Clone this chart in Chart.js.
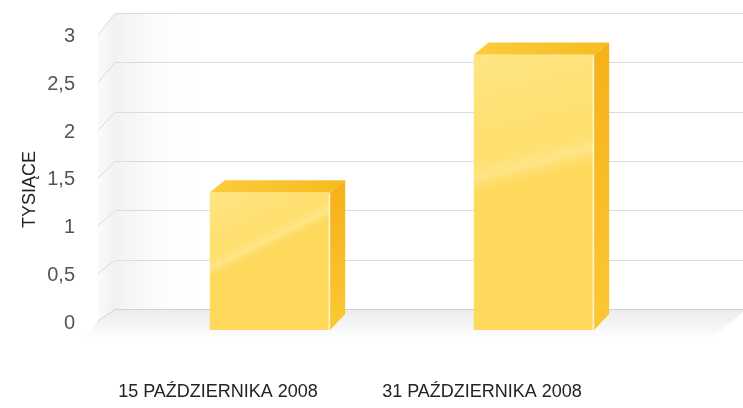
<!DOCTYPE html>
<html>
<head>
<meta charset="utf-8">
<script src="https://cdn.jsdelivr.net/npm/chart.js@4"></script>
<style>
  body { margin: 0; background: #fff; }
  #wrap { width: 743px; height: 408px; }
</style>
</head>
<body>
<div id="wrap"><canvas id="barChart"></canvas></div>
<script>
const categories = ['15 PAŹDZIERNIKA 2008', '31 PAŹDZIERNIKA 2008'];
const values = [1.35, 2.7];
const tickValues = [0, 0.5, 1, 1.5, 2, 2.5, 3];

// fake 3D: depth offset of the bar boxes
const depthX = 15;
const depthY = -12;

const box3d = {
    id: 'box3d',
    beforeDatasetsDraw(chart) {
        const ctx = chart.ctx;
        const area = chart.chartArea;
        const yw = chart.scales.yw;
        const yl = chart.scales.yl;
        const frontX = area.left - 40;
        const backX = area.left - 23;
        const rightX = chart.width;

        const f0 = yl.getPixelForValue(0) - 2, f3 = yl.getPixelForValue(3) - 2;
        const b0 = yw.getPixelForValue(0), b3 = yw.getPixelForValue(3);

        ctx.save();
        // side wall
        let g = ctx.createLinearGradient(frontX, 0, backX, 0);
        g.addColorStop(0, '#fbfbfb');
        g.addColorStop(1, '#f1f1f1');
        ctx.fillStyle = g;
        ctx.beginPath();
        ctx.moveTo(frontX, f3); ctx.lineTo(backX, b3); ctx.lineTo(backX, b0); ctx.lineTo(frontX, f0);
        ctx.closePath(); ctx.fill();

        // back wall shade
        g = ctx.createLinearGradient(backX, 0, backX + 80, 0);
        g.addColorStop(0, 'rgba(241,241,241,1)');
        g.addColorStop(1, 'rgba(255,255,255,0)');
        ctx.fillStyle = g;
        ctx.fillRect(backX, b3, 80, b0 - b3);

        // floor
        g = ctx.createLinearGradient(0, b0, 0, b0 + 36);
        g.addColorStop(0, '#ececec');
        g.addColorStop(0.5, '#f6f6f6');
        g.addColorStop(1, 'rgba(255,255,255,0)');
        ctx.fillStyle = g;
        ctx.beginPath();
        ctx.moveTo(backX, b0); ctx.lineTo(rightX, b0); ctx.lineTo(rightX, b0 + 3);
        ctx.lineTo(rightX - 40, b0 + 36); ctx.lineTo(frontX - 20, b0 + 36); ctx.lineTo(frontX, f0);
        ctx.closePath(); ctx.fill();

        // grid lines
        ctx.lineWidth = 1;
        tickValues.forEach(v => {
            const yf = yl.getPixelForValue(v) - 2;
            const yb = Math.round(yw.getPixelForValue(v)) + 0.5;
            ctx.strokeStyle = v === 0 ? '#d2d2d2' : '#dcdcdc';
            ctx.beginPath();
            ctx.moveTo(frontX, yf);
            ctx.lineTo(backX, yb);
            ctx.lineTo(rightX, yb);
            ctx.stroke();
        });
        ctx.restore();
    },
    afterDatasetsDraw(chart) {
        const ctx = chart.ctx;
        const meta = chart.getDatasetMeta(0);
        ctx.save();
        meta.data.forEach(bar => {
            const w = bar.width;
            const L = bar.x - w / 2, R = bar.x + w / 2;
            const top = bar.y, base = bar.base;
            const h = base - top;

            // gloss on the front face
            let g = ctx.createLinearGradient(L, top, L + w * 0.5, top + Math.min(h, 260) * 0.9);
            g.addColorStop(0, 'rgba(255,240,170,0.5)');
            g.addColorStop(0.42, 'rgba(255,236,150,0.3)');
            g.addColorStop(0.5, 'rgba(255,244,190,0.45)');
            g.addColorStop(0.58, 'rgba(255,215,90,0)');
            g.addColorStop(1, 'rgba(255,215,90,0)');
            ctx.fillStyle = g;
            ctx.fillRect(L, top, w, h);
            ctx.strokeStyle = 'rgba(255,246,205,0.9)';
            ctx.lineWidth = 1.5;
            ctx.beginPath();
            ctx.moveTo(R - 1, top + 2); ctx.lineTo(R - 1, base);
            ctx.stroke();

            // top face
            g = ctx.createLinearGradient(L, top, R + depthX, top + depthY);
            g.addColorStop(0, '#fbcc3c');
            g.addColorStop(1, '#f7bb20');
            ctx.fillStyle = g;
            ctx.beginPath();
            ctx.moveTo(L, top); ctx.lineTo(L + depthX, top + depthY);
            ctx.lineTo(R + depthX, top + depthY); ctx.lineTo(R, top);
            ctx.closePath(); ctx.fill();

            // side face
            g = ctx.createLinearGradient(0, top, 0, base);
            g.addColorStop(0, '#f6b21a');
            g.addColorStop(0.5, '#f9bd28');
            g.addColorStop(1, '#fcc836');
            ctx.fillStyle = g;
            ctx.beginPath();
            ctx.moveTo(R, top); ctx.lineTo(R + depthX, top + depthY);
            ctx.lineTo(R + depthX, base + depthY - 4); ctx.lineTo(R, base);
            ctx.closePath(); ctx.fill();
        });
        ctx.restore();
    }
};

const ctx = document.getElementById('barChart').getContext('2d');
new Chart(ctx, {
    type: 'bar',
    data: {
        labels: categories,
        datasets: [{
            data: values,
            backgroundColor: '#ffd95c',
            borderWidth: 0,
            barPercentage: 0.456,
            categoryPercentage: 1,
            xAxisID: 'x',
            yAxisID: 'y'
        }]
    },
    options: {
        responsive: true,
        maintainAspectRatio: false,
        animation: false,
        layout: { padding: { top: 24, right: 77, bottom: 0, left: 0 } },
        plugins: {
            legend: { display: false },
            tooltip: { enabled: false }
        },
        scales: {
            x: {
                grid: { display: false, drawTicks: false },
                border: { display: false },
                ticks: {
                    padding: 51,
                    labelOffset: -52,
                    color: '#222',
                    maxRotation: 0,
                    autoSkip: false,
                    font: { family: 'Liberation Sans', size: 18 }
                },
                afterFit: s => { s.height = 78; s.paddingLeft = 0; s.paddingRight = 0; }
            },
            y: { display: false, min: 0, max: 3 },
            // back wall of the 3D box
            yw: { display: false, min: -0.2128, max: 2.8885 },
            // labels sit on the front edge of the box
            yl: {
                position: 'left',
                min: -0.0734,
                max: 3.136,
                grid: { display: false, drawTicks: false },
                border: { display: false },
                ticks: {
                    stepSize: 0.5,
                    includeBounds: false,
                    padding: 63,
                    color: '#555',
                    font: { family: 'Liberation Sans', size: 20 },
                    callback: v => String(v).replace('.', ',')
                },
                title: {
                    display: true,
                    // trailing blanks nudge the rotated title a bit lower
                    text: 'TYSIĄCE\u00a0\u00a0\u00a0\u00a0\u00a0',
                    color: '#222',
                    font: { family: 'Liberation Sans', size: 18 },
                    padding: { top: 19, bottom: 0 }
                },
                // big tick padding must not push the plot area down
                afterFit: s => { s.width = 138; s.paddingTop = 0; s.paddingBottom = 0; }
            }
        }
    },
    plugins: [box3d]
});
</script>
</body>
</html>
